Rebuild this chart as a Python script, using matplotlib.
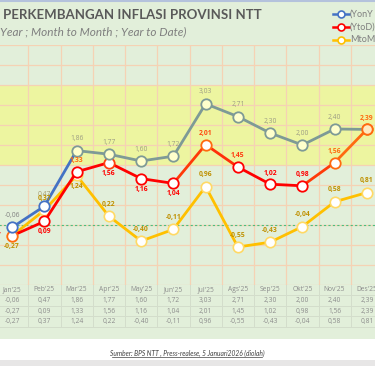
import numpy as np
import matplotlib
matplotlib.use("Agg")
import matplotlib.pyplot as plt
from matplotlib.patches import Rectangle
from matplotlib.lines import Line2D
import matplotlib.transforms as mtransforms

plt.rcParams['font.family'] = ['Lato', 'DejaVu Sans']
num_font = ['Open Sans', 'DejaVu Sans']

months = ["Jan'25", "Peb'25", "Mar'25", "Apr'25", "May'25", "Jun'25",
          "Jul'25", "Ags'25", "Sep'25", "Okt'25", "Nov'25", "Des'25"]
yoy = [-0.06, 0.47, 1.86, 1.77, 1.60, 1.72, 3.03, 2.71, 2.30, 2.00, 2.40, 2.39]
ytd = [-0.27, 0.09, 1.33, 1.56, 1.16, 1.04, 2.01, 1.45, 1.02, 0.98, 1.56, 2.39]
mtm = [-0.27, 0.37, 1.24, 0.22, -0.40, -0.11, 0.96, -0.55, -0.43, -0.04, 0.58, 0.81]

# label placement per point: 'a' above, 'b' below, 'l' left
ytd_pos = ['l', 'b', 'a', 'b', 'b', 'b', 'a', 'a', 'a', 'a', 'a', 'a']
mtm_pos = ['b', 'a', 'b', 'a', 'a', 'a', 'a', 'a', 'a', 'a', 'a', 'a']

W, H = 375, 366
bg = '#E2EFDA'
grid_c = '#F5D2B4'
gray_line = '#7E9A96'
blue = '#4472C4'
red = '#FF0000'
orange = '#FF6A10'
gold = '#FFC000'
gold_txt = '#BF9000'


def fy(px):
    return 1 - px / H


fig = plt.figure(figsize=(W / 100, H / 100), dpi=100)
fig.patch.set_facecolor('white')
fig.add_artist(Rectangle((0, fy(339)), 1, 1 - fy(339), transform=fig.transFigure,
                         facecolor=bg, edgecolor='none', zorder=0))
fig.add_artist(Rectangle((0, 0), 1, fy(360), transform=fig.transFigure,
                         facecolor='#E7E6E6', edgecolor='none', zorder=0))
fig.add_artist(Line2D([0, 1], [fy(0.8), fy(0.8)], transform=fig.transFigure,
                      color='#B4C2DC', lw=1.5))

ax = fig.add_axes([-4 / W, fy(285), 387 / W, 240 / H])
ax.set_facecolor(bg)
ax.set_xlim(-0.5, 11.5)
ax.set_ylim(-1.5, 4.5)
for s in ax.spines.values():
    s.set_visible(False)
ax.set_xticks(np.arange(-0.5, 11.6, 1))
ax.set_yticks(np.arange(-1.5, 4.51, 0.5))
ax.tick_params(length=0, labelbottom=False, labelleft=False)
ax.grid(True, color=grid_c, lw=0.9, zorder=1)
ax.set_axisbelow(True)
ax.axhspan(1.5, 3.5, color='#EDF5A0', zorder=0.5, lw=0)
ax.axhline(0, color='#4CBF80', lw=0.8, ls=(0, (2, 2)), zorder=1.5)

x = np.arange(len(months))

# MtoM
ax.plot(x, mtm, color=gold, lw=2, zorder=3)
ax.plot(x, mtm, 'o', ms=7.5, mfc='white', mec='#FFD966', mew=1.2, zorder=4)

# YtoD
ytd_seg = [red, red, red, red, red, '#FF3A08', '#FF3008', red, red, '#FF3A08', orange]
for i in range(len(x) - 1):
    ax.plot(x[i:i + 2], ytd[i:i + 2], color=ytd_seg[i], lw=2, zorder=5,
            solid_capstyle='round')
ytd_mec = [orange, red, red, '#FF4010', red, red, orange, red, red, red, orange, orange]
for i in range(len(x)):
    ax.plot(x[i], ytd[i], 'o', ms=7.5, mfc='white', mec=ytd_mec[i], mew=1.3, zorder=6)

# YonY
yoy_seg = [blue, blue] + [gray_line] * 9
for i in range(len(x) - 1):
    ax.plot(x[i:i + 2], yoy[i:i + 2], color=yoy_seg[i], lw=2, zorder=7,
            solid_capstyle='round')
for i in range(len(x)):
    if i < 2:
        ax.plot(x[i], yoy[i], 'o', ms=7.5, mfc='white', mec=blue, mew=1.3, zorder=8)
    elif i == 11:
        ax.plot(x[i], yoy[i], 'o', ms=7.5, mfc='#FFE9C0', mec=orange, mew=1.3, zorder=8)
    else:
        ax.plot(x[i], yoy[i], 'o', ms=7.5, mfc='#FFFFCC', mec=gray_line, mew=1.3, zorder=8)


def fmt(v):
    return f"{v:.2f}".replace('.', ',')


lab_fs = 4.9
for i in range(len(x)):
    if i == 11:
        continue
    c = '#A39A6E' if i == 1 else ('#7F7F7F' if i == 0 else '#9C9C84')
    ax.annotate(fmt(yoy[i]), (x[i], yoy[i]), xytext=(0, 8.5), textcoords='offset points',
                ha='center', va='center', fontsize=lab_fs, color=c, zorder=9,
                family=num_font)

ytd_lc = [red, red, orange, red, red, red, '#FF4A10', '#FF3A10', red, red, orange, orange]
for i in range(len(x)):
    p = ytd_pos[i]
    off = {'a': (0, 8), 'b': (0, -7.5), 'l': (-13, 0)}[p]
    ax.annotate(fmt(ytd[i]), (x[i], ytd[i]), xytext=off, textcoords='offset points',
                ha='center', va='center', fontsize=lab_fs, color=ytd_lc[i],
                fontweight='bold', zorder=9, family=num_font)

for i in range(len(x)):
    off = (0, 8.5) if mtm_pos[i] == 'a' else (0, -8)
    ax.annotate(fmt(mtm[i]), (x[i], mtm[i]), xytext=off, textcoords='offset points',
                ha='center', va='center', fontsize=lab_fs, color=gold_txt,
                fontweight='bold', zorder=9, family=num_font)

# data table under the plot
trans = mtransforms.blended_transform_factory(ax.transData, fig.transFigure)
tab_c = '#8C8C8C'
line_c = '#D3DDCB'
for yy in [295, 305.5, 316, 327]:
    ax.plot([-0.5, 11.5], [fy(yy), fy(yy)], transform=trans, color=line_c, lw=0.7,
            clip_on=False)
for xb in np.arange(-0.5, 11.6, 1):
    ax.plot([xb, xb], [fy(285), fy(327)], transform=trans, color=line_c, lw=0.7,
            clip_on=False)
for i in range(len(x)):
    fig.text(x[i], fy(289.5), months[i], transform=trans, ha='center', va='center',
             fontsize=4.8, color=tab_c, family=num_font)
    for yy, arr in zip([300.5, 311, 321.5], [yoy, ytd, mtm]):
        fig.text(x[i], fy(yy), fmt(arr[i]), transform=trans, ha='center', va='center',
                 fontsize=4.8, color=tab_c, family=num_font)

# titles
fig.text(3 / W, fy(15), 'PERKEMBANGAN INFLASI PROVINSI NTT', ha='left', va='center',
         fontsize=9.5, fontweight='bold', color='#595959')
fig.text(0, fy(32), 'Year ; Month to Month ; Year to Date)', ha='left', va='center',
         fontsize=8.5, style='italic', color='#7F7F7F')

# legend
leg = [('(YonY', blue, 14), ('(YtoD)', red, 27), ('MtoM', gold, 40)]
for name, c, yy in leg:
    fig.add_artist(Line2D([333 / W, 349 / W], [fy(yy), fy(yy)], transform=fig.transFigure,
                          color=c, lw=1.8))
    fig.add_artist(Line2D([341 / W], [fy(yy)], transform=fig.transFigure, marker='o',
                          ms=5, mfc='white', mec=c, mew=1.2, lw=0))
    fig.text(350 / W, fy(yy), name, ha='left', va='center', fontsize=6.5, color='#7F7F7F')

fig.text(187 / W, fy(353), 'Sumber: BPS NTT , Press-realese, 5 Januari2026 (diolah)',
         ha='center', va='center', fontsize=4.8, style='italic', color='#404040')
src_y = fy(356.5)
fig.add_artist(Line2D([112 / W, 262 / W], [src_y, src_y], transform=fig.transFigure,
                      color='#404040', lw=0.5))

fig.savefig('out.png', dpi=100, facecolor=fig.get_facecolor())
